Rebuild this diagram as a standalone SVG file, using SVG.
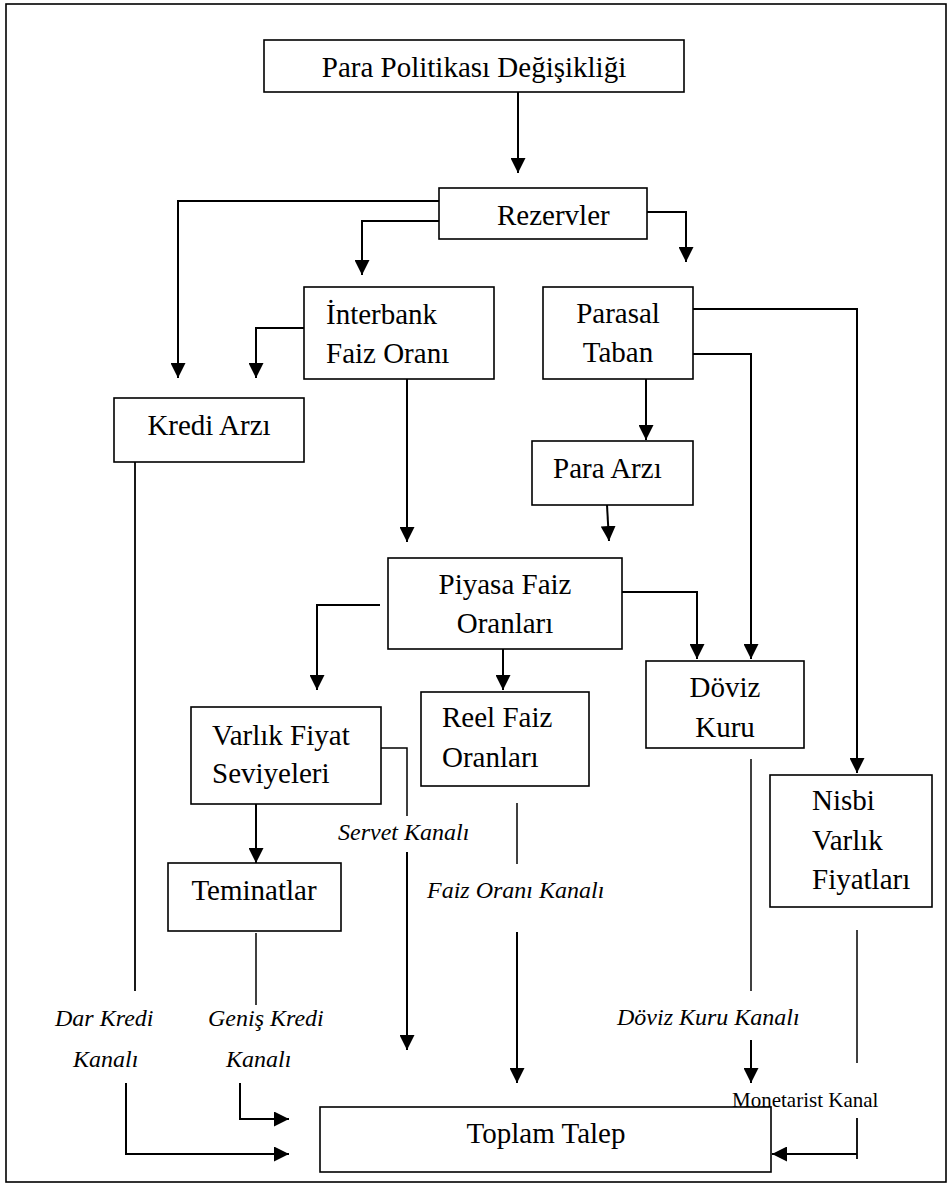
<svg xmlns="http://www.w3.org/2000/svg" width="949" height="1184" viewBox="0 0 949 1184">
  <style>
    .box { fill: #fff; stroke: #000; stroke-width: 1.6; }
    .lbl { font-family: "Liberation Serif", "Times New Roman", serif; font-size: 29px; fill: #000; }
    .ch { font-family: "Liberation Serif", "Times New Roman", serif; font-size: 24px; font-style: italic; fill: #000; }
    .small { font-family: "Liberation Serif", "Times New Roman", serif; font-size: 21px; fill: #000; }
    .arr { fill: none; stroke: #000; stroke-width: 2; marker-end: url(#tip); }
    .thin { fill: none; stroke: #000; stroke-width: 1.5; }
  </style>
  <defs>
    <marker id="tip" markerUnits="userSpaceOnUse" markerWidth="15" markerHeight="15" refX="15" refY="7.5" orient="auto">
      <path d="M0,0 L15,7.5 L0,15 z" fill="#000"/>
    </marker>
  </defs>

  <rect width="949" height="1184" fill="#fff"/>
  <!-- outer frame -->
  <rect x="6" y="4" width="940" height="1178" fill="none" stroke="#000" stroke-width="1.6"/>

  <!-- connectors -->
  <g id="connectors">
    <path class="arr" d="M518,92 V173"/>
    <path class="arr" d="M439,201 H178 V378"/>
    <path class="arr" d="M439,221 H362 V275"/>
    <path class="arr" d="M647,212 H686 V262"/>
    <path class="arr" d="M304,328 H256 V378"/>
    <path class="arr" d="M407,379 V542"/>
    <path class="arr" d="M646,379 V440"/>
    <path class="arr" d="M693,354 H751 V659"/>
    <path class="arr" d="M693,309 H857 V773"/>
    <path class="arr" d="M607,505 L609,541"/>
    <path class="arr" d="M380,605 H317 V690"/>
    <path class="arr" d="M503,649 V690"/>
    <path class="arr" d="M622,592 H697 V659"/>
    <path class="arr" d="M256,804 V863"/>
    <path class="thin" d="M381,748 H407 V816"/>
    <path class="arr" d="M407,852 V1050"/>
    <path class="thin" d="M517,803 V864"/>
    <path class="arr" d="M517,932 V1083"/>
    <path class="thin" style="stroke-width:1.8" d="M135,462 V991"/>
    <path class="arr" d="M126,1083 V1154 H289"/>
    <path class="thin" d="M256,933 V1005"/>
    <path class="arr" d="M240,1083 V1119 H289"/>
    <path class="thin" d="M751,759 V991"/>
    <path class="arr" d="M751,1040 V1083"/>
    <path class="thin" d="M857,930 V1063"/>
    <path class="thin" style="stroke-width:1.8" d="M857,1118 V1159"/>
    <path class="arr" d="M857,1154 H772"/>
  </g>

  <!-- nodes -->
  <g id="para-politikasi">
    <rect class="box" x="264" y="40" width="420" height="52"/>
    <text class="lbl" x="474" y="77" text-anchor="middle">Para Politikası Değişikliği</text>
  </g>
  <g id="rezervler">
    <rect class="box" x="439" y="188" width="208" height="51"/>
    <text class="lbl" x="497" y="225">Rezervler</text>
  </g>
  <g id="interbank">
    <rect class="box" x="304" y="287" width="190" height="92"/>
    <text class="lbl" x="326" y="324">İnterbank</text>
    <text class="lbl" x="326" y="363">Faiz Oranı</text>
  </g>
  <g id="parasal-taban">
    <rect class="box" x="543" y="287" width="150" height="92"/>
    <text class="lbl" x="618" y="323" text-anchor="middle">Parasal</text>
    <text class="lbl" x="618" y="362" text-anchor="middle">Taban</text>
  </g>
  <g id="kredi-arzi">
    <rect class="box" x="114" y="398" width="190" height="64"/>
    <text class="lbl" x="209" y="435" text-anchor="middle">Kredi Arzı</text>
  </g>
  <g id="para-arzi">
    <rect class="box" x="532" y="441" width="161" height="64"/>
    <text class="lbl" x="553" y="478">Para Arzı</text>
  </g>
  <g id="piyasa-faiz">
    <rect class="box" x="388" y="558" width="234" height="91"/>
    <text class="lbl" x="505" y="594" text-anchor="middle">Piyasa Faiz</text>
    <text class="lbl" x="505" y="633" text-anchor="middle">Oranları</text>
  </g>
  <g id="doviz-kuru">
    <rect class="box" x="646" y="661" width="158" height="87"/>
    <text class="lbl" x="725" y="697" text-anchor="middle">Döviz</text>
    <text class="lbl" x="725" y="737" text-anchor="middle">Kuru</text>
  </g>
  <g id="reel-faiz">
    <rect class="box" x="421" y="692" width="168" height="94"/>
    <text class="lbl" x="442" y="727">Reel Faiz</text>
    <text class="lbl" x="442" y="767">Oranları</text>
  </g>
  <g id="varlik-fiyat">
    <rect class="box" x="191" y="707" width="190" height="97"/>
    <text class="lbl" x="212" y="745">Varlık Fiyat</text>
    <text class="lbl" x="212" y="783">Seviyeleri</text>
  </g>
  <g id="nisbi-varlik">
    <rect class="box" x="770" y="775" width="162" height="132"/>
    <text class="lbl" x="812" y="810">Nisbi</text>
    <text class="lbl" x="812" y="850">Varlık</text>
    <text class="lbl" x="812" y="889">Fiyatları</text>
  </g>
  <g id="teminatlar">
    <rect class="box" x="168" y="863" width="173" height="68"/>
    <text class="lbl" x="254" y="900" text-anchor="middle">Teminatlar</text>
  </g>
  <g id="toplam-talep">
    <rect class="box" x="320" y="1107" width="451" height="65"/>
    <text class="lbl" x="546" y="1143" text-anchor="middle">Toplam Talep</text>
  </g>

  <!-- channel labels -->
  <g id="channel-labels">
    <text class="ch" x="338" y="840">Servet Kanalı</text>
    <text class="ch" x="427" y="898">Faiz Oranı Kanalı</text>
    <text class="ch" x="55" y="1026">Dar Kredi</text>
    <text class="ch" x="73" y="1067">Kanalı</text>
    <text class="ch" x="208" y="1026">Geniş Kredi</text>
    <text class="ch" x="226" y="1067">Kanalı</text>
    <text class="ch" x="617" y="1025">Döviz Kuru Kanalı</text>
    <text class="small" x="732" y="1107">Monetarist Kanal</text>
  </g>
</svg>
